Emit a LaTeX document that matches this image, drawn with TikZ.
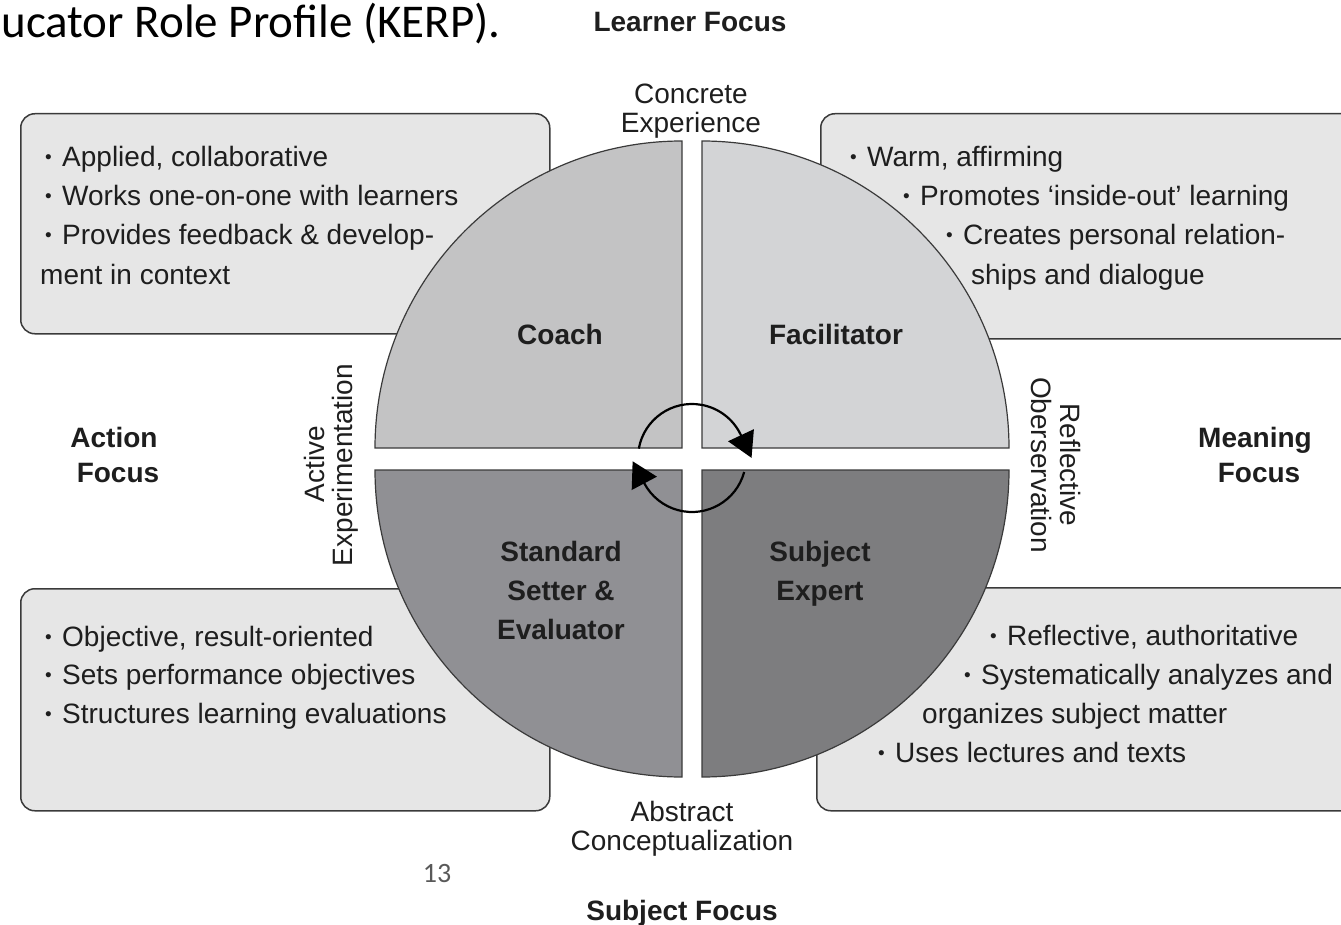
\documentclass[tikz,border=0pt]{standalone}
\usepackage{fontspec}
\setmainfont{Liberation Sans}
\newfontfamily\calib{Carlito}
\usetikzlibrary{arrows.meta}
\definecolor{boxfill}{HTML}{E6E6E6}
\definecolor{edge}{HTML}{3A3A3A}
\definecolor{qTL}{HTML}{C3C3C4}
\definecolor{qTR}{HTML}{D3D4D6}
\definecolor{qBL}{HTML}{909094}
\definecolor{qBR}{HTML}{7D7D7F}
\definecolor{ink}{HTML}{1E1E1E}
\newcommand{\bul}{\makebox[17pt][l]{\raisebox{3pt}{\fontsize{19}{19}\selectfont •}}}
\tikzset{
  box/.style={draw=edge, fill=boxfill, line width=1.5pt, rounded corners=14pt, inner sep=0pt},
  quad/.style={draw=edge, line width=1.2pt},
  txt/.style={inner sep=0pt, text=ink, font=\fontsize{28}{34}\selectfont},
  bld/.style={txt, font=\fontsize{28}{34}\selectfont\bfseries},
  cyc/.style={draw=black, line width=2.2pt, -{Triangle[length=25pt,width=28pt]}},
}
\begin{document}
\begin{tikzpicture}[x=1pt,y=-1pt]
\useasboundingbox (0,0) rectangle (1341,925);
\clip (0,0) rectangle (1341,925);
% title fragment
\node[inner sep=0pt, anchor=base east, font=\calib\fontsize{47}{50}\selectfont] (title) at (501,38) {ucator Role Profile (KERP).};
% boxes
\node[box, anchor=north west, minimum width=529pt, minimum height=220pt] (boxTL) at (20,113) {};
\node[box, anchor=north west, minimum width=560pt, minimum height=225pt] (boxTR) at (820,113) {};
\node[box, anchor=north west, minimum width=529pt, minimum height=222pt] (boxBL) at (20,588) {};
\node[box, anchor=north west, minimum width=560pt, minimum height=223pt] (boxBR) at (816,587) {};
% quadrants
\filldraw[quad, fill=qTL] (682,448) -- ++(-307,0) arc[start angle=180, end angle=270, radius=307] -- cycle;
\filldraw[quad, fill=qTR] (702,448) -- ++(0,-307) arc[start angle=270, end angle=360, radius=307] -- cycle;
\filldraw[quad, fill=qBL] (682,470) -- ++(-307,0) arc[start angle=180, end angle=90, radius=307] -- cycle;
\filldraw[quad, fill=qBR] (702,470) -- ++(307,0) arc[start angle=0, end angle=90, radius=307] -- cycle;
% cycle arrows
\coordinate (cc) at (692,458);
\draw[cyc] (cc) ++(190:54) arc[start angle=190, end angle=335, radius=54] -- ++(10.6,22.7);
\draw[cyc] (cc) ++(15:54) arc[start angle=15, end angle=152, radius=54] -- ++(-11.7,-22.1);
% box texts
\node[txt, anchor=base west] (a1) at (45,167) {\bul Applied, collaborative};
\node[txt, anchor=base west] (a2) at (45,206) {\bul Works one-on-one with learners};
\node[txt, anchor=base west] (a3) at (45,245) {\bul Provides feedback \& develop-};
\node[txt, anchor=base west] (a4) at (40,284) {ment in context};
\node[txt, anchor=base west] (b1) at (850,167) {\bul Warm, affirming};
\node[txt, anchor=base west] (b2) at (903,206) {\bul Promotes ‘inside-out’ learning};
\node[txt, anchor=base west] (b3) at (946,245) {\bul Creates personal relation-};
\node[txt, anchor=base west] (b4) at (971,284) {ships and dialogue};
\node[txt, anchor=base west] (c1) at (45,646) {\bul Objective, result-oriented};
\node[txt, anchor=base west] (c2) at (45,684) {\bul Sets performance objectives};
\node[txt, anchor=base west] (c3) at (45,723) {\bul Structures learning evaluations};
\node[txt, anchor=base west] (d1) at (990,645) {\bul Reflective, authoritative};
\node[txt, anchor=base west] (d2) at (964,684) {\bul Systematically analyzes and};
\node[txt, anchor=base west] (d3) at (922,723) {organizes subject matter};
\node[txt, anchor=base west] (d4) at (878,762) {\bul Uses lectures and texts};
% axis labels
\node[bld, anchor=base] (lf) at (690,32) {Learner Focus};
\node[txt, anchor=base] (ce1) at (691,104) {Concrete};
\node[txt, anchor=base] (ce2) at (691,133) {Experience};
\node[txt, anchor=base] (ac1) at (682,821) {Abstract};
\node[txt, anchor=base] (ac2) at (682,850) {Conceptualization};
\node[bld, anchor=base] (sf) at (682,920) {Subject Focus};
\node[bld, anchor=base] (af1) at (114,447) {Action};
\node[bld, anchor=base] (af2) at (118,482) {Focus};
\node[bld, anchor=base] (mf1) at (1255,447) {Meaning};
\node[bld, anchor=base] (mf2) at (1259,482) {Focus};
\node[txt, anchor=base, rotate=90] (ae1) at (324,464) {Active};
\node[txt, anchor=base, rotate=90] (ae2) at (352,465) {Experimentation};
\node[txt, anchor=base, rotate=-90] (ro1) at (1060,465) {Reflective};
\node[txt, anchor=base, rotate=-90] (ro2) at (1031,465) {Oberservation};
% role labels
\node[bld, anchor=base] (coach) at (560,344) {Coach};
\node[bld, anchor=base] (facil) at (836,344) {Facilitator};
\node[bld, anchor=base] (ss1) at (561,561) {Standard};
\node[bld, anchor=base] (ss2) at (561,600) {Setter \&};
\node[bld, anchor=base] (ss3) at (561,639) {Evaluator};
\node[bld, anchor=base] (se1) at (820,561) {Subject};
\node[bld, anchor=base] (se2) at (820,600) {Expert};
% page number
\node[inner sep=0pt, anchor=base, text=black!65, font=\calib\fontsize{28}{30}\selectfont] (pg) at (437,882) {13};
\end{tikzpicture}
\end{document}
